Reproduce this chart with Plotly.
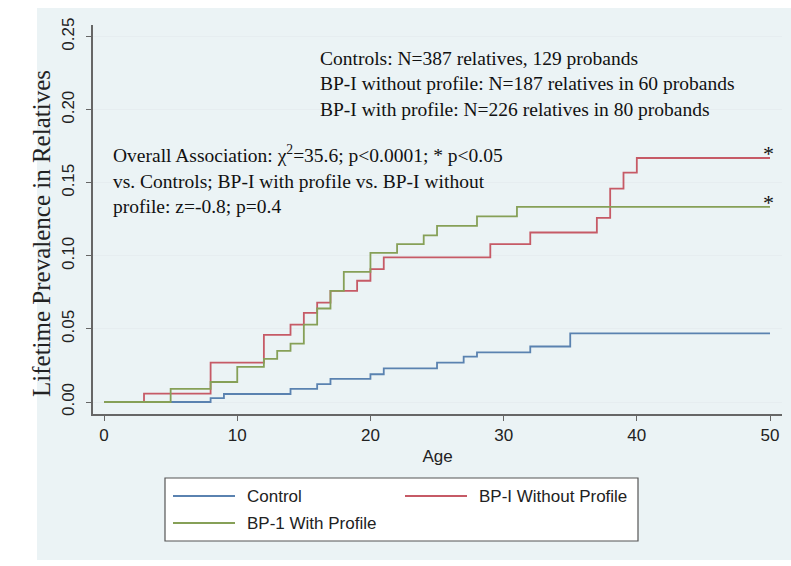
import plotly.graph_objects as go

# ---------------- data ----------------
control_age = [0, 8, 9, 14, 16, 17, 20, 21, 25, 27, 28, 32, 35, 50]
control_val = [0, 0.0027, 0.0055, 0.009, 0.0123, 0.0158, 0.019, 0.023, 0.027, 0.031, 0.034, 0.038, 0.047, 0.047]

noprof_age = [0, 3, 8, 12, 14, 15, 16, 17, 19, 20, 21, 29, 32, 37, 38, 39, 40, 50]
noprof_val = [0, 0.0058, 0.027, 0.046, 0.053, 0.061, 0.068, 0.076, 0.083, 0.091, 0.099,
              0.108, 0.116, 0.126, 0.146, 0.157, 0.167, 0.167]

prof_age = [0, 5, 8, 10, 12, 13, 14, 15, 16, 17, 18, 20, 22, 24, 25, 28, 31, 50]
prof_val = [0, 0.009, 0.0137, 0.024, 0.0295, 0.035, 0.040, 0.053, 0.064, 0.076, 0.089,
            0.102, 0.108, 0.114, 0.1205, 0.127, 0.1335, 0.1335]

series_names = ["Control", "BP-I Without Profile", "BP-1 With Profile"]
significant = [False, True, True]

y_ticks = [0, 0.05, 0.10, 0.15, 0.20, 0.25]
x_ticks = [0, 10, 20, 30, 40, 50]

x_title = "Age"
y_title = "Lifetime Prevalence in Relatives"
info_text = ("Controls: N=387 relatives, 129 probands<br>"
             "BP-I without profile: N=187 relatives in 60 probands<br>"
             "BP-I with profile: N=226 relatives in 80 probands")
assoc_text = ("Overall Association: \u03c7<sup>2</sup>=35.6; p<0.0001; * p<0.05<br>"
              "vs. Controls; BP-I with profile vs. BP-I without<br>"
              "profile: z=-0.8; p=0.4")

# ---------------- styling ----------------
W, H = 791, 566
L, R, T, B = 93, 9, 25, 152          # plot area: x 93..782, y 25..414
PW, PH = W - L - R, H - T - B
colors = ["#5a82b0", "#c65a66", "#86a057"]
SANS = "Liberation Sans, Arial, sans-serif"
SERIF = "Liberation Serif, Times New Roman, serif"
BLUEBG = "#ebf3f5"


def px_x(px):
    return (px - L) / PW


def px_y(py):
    return (H - B - py) / PH


fig = go.Figure()
for age, val, name, col in zip([control_age, noprof_age, prof_age],
                               [control_val, noprof_val, prof_val],
                               series_names, colors):
    fig.add_trace(go.Scatter(x=age, y=val, mode="lines", line_shape="hv",
                             name=name, line=dict(color=col, width=1.8),
                             showlegend=False, hoverinfo="skip"))

shapes = []
annotations = []

# outer light bluish graph region
shapes.append(dict(type="rect", xref="paper", yref="paper", layer="below",
                   x0=px_x(37), x1=px_x(791), y0=px_y(560), y1=px_y(8),
                   fillcolor=BLUEBG, line=dict(width=0)))

# significance stars at the end of curves
for age, val, sig in zip([control_age, noprof_age, prof_age],
                         [control_val, noprof_val, prof_val], significant):
    if sig:
        annotations.append(dict(x=age[-1], y=val[-1], xref="x", yref="y",
                                text="*", showarrow=False, xanchor="center",
                                yanchor="middle", yshift=4, xshift=-2,
                                font=dict(family=SERIF, size=22, color="#111")))

annotations.append(dict(x=px_x(318), y=px_y(84), xref="paper", yref="paper",
                        text=info_text, showarrow=False, xanchor="left",
                        yanchor="middle", align="left",
                        font=dict(family=SERIF, size=19.5, color="#111")))
annotations.append(dict(x=px_x(111), y=px_y(179), xref="paper", yref="paper",
                        text=assoc_text, showarrow=False, xanchor="left",
                        yanchor="middle", align="left",
                        font=dict(family=SERIF, size=19.5, color="#111")))

# y-axis title (placed as in the reference, slightly below plot centre)
annotations.append(dict(x=px_x(41), y=px_y(234), xref="paper", yref="paper",
                        text=y_title, showarrow=False, textangle=-90,
                        xanchor="center", yanchor="middle",
                        font=dict(family=SERIF, size=25, color="#222")))

# legend (drawn box with line samples)
shapes.append(dict(type="rect", xref="paper", yref="paper",
                   x0=px_x(165), x1=px_x(638), y0=px_y(541), y1=px_y(478),
                   fillcolor="white", line=dict(color="#555", width=1.2)))
legend_pos = [(173, 496), (405, 496), (173, 523)]
for (lx, ly), name, col in zip(legend_pos, series_names, colors):
    shapes.append(dict(type="line", xref="paper", yref="paper",
                       x0=px_x(lx), x1=px_x(lx + 62), y0=px_y(ly), y1=px_y(ly),
                       line=dict(color=col, width=1.8)))
    annotations.append(dict(x=px_x(lx + 72), y=px_y(ly), xref="paper", yref="paper",
                            text=name, showarrow=False, xanchor="left",
                            yanchor="middle",
                            font=dict(family=SANS, size=17, color="#222")))

fig.update_layout(
    width=W, height=H,
    margin=dict(l=L, r=R, t=T, b=B, autoexpand=False),
    paper_bgcolor="white", plot_bgcolor="white",
    showlegend=False,
    shapes=shapes, annotations=annotations,
    xaxis=dict(range=[-0.83, 50.9], tickvals=x_ticks, showgrid=False,
               zeroline=False, showline=True, linecolor="#666", linewidth=1.5,
               ticks="outside", ticklen=5, tickcolor="#666",
               tickfont=dict(family=SANS, size=17, color="#222"),
               title=dict(text=x_title, font=dict(family=SANS, size=17, color="#222"),
                          standoff=6)),
    yaxis=dict(range=[-0.0082, 0.258], tickvals=y_ticks, tickformat=".2f",
               showgrid=True, gridcolor="#e6edf0", gridwidth=1,
               zeroline=False, showline=True, linecolor="#666", linewidth=1.5,
               ticks="outside", ticklen=5, tickcolor="#666", tickangle=-90,
               ticklabelstandoff=5,
               tickfont=dict(family=SANS, size=17, color="#222")),
)

fig.write_html("out.html", config={"displayModeBar": False},
               post_script="document.body.style.margin='0px';document.body.style.padding='0px';")
